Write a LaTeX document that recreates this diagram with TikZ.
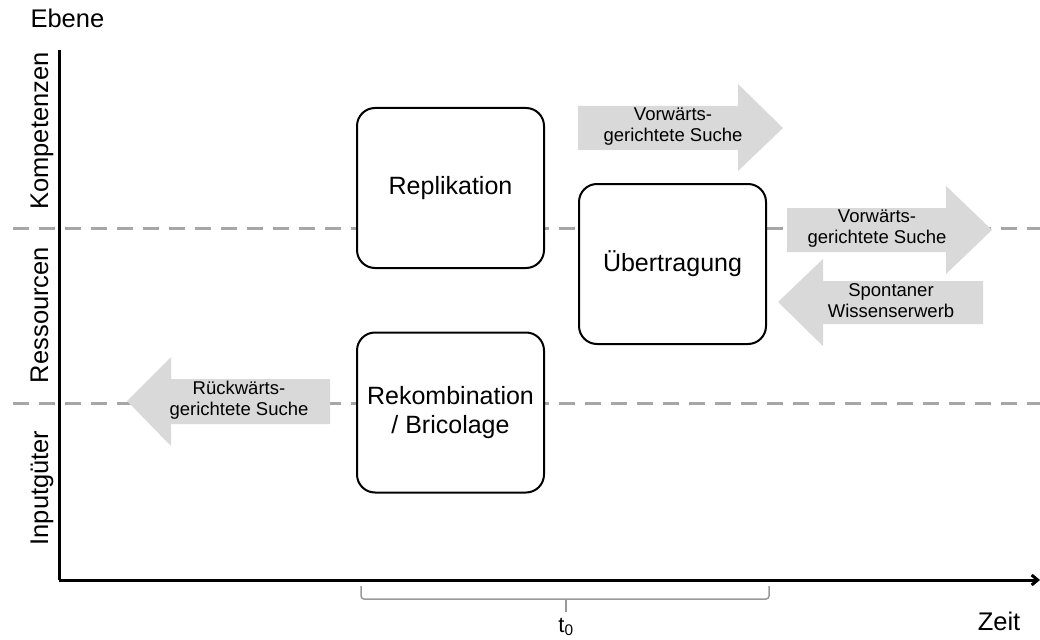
\documentclass[tikz,border=0pt]{standalone}
\usepackage{fontspec}
\setmainfont{Liberation Sans}
\usetikzlibrary{arrows.meta}
\definecolor{arrowgray}{HTML}{D9D9D9}
\definecolor{linegray}{HTML}{A6A6A6}
\definecolor{bracegray}{HTML}{999999}
\begin{document}
\begin{tikzpicture}[x=1pt,y=-1pt,
  stage/.style={draw=black,line width=2pt,rounded corners=18pt,fill=white,
    minimum width=187pt,minimum height=160pt,align=center,
    font=\fontsize{25}{29}\selectfont},
  arrowtext/.style={align=center,font=\fontsize{18.5}{21}\selectfont},
  axislabel/.style={font=\fontsize{25.5}{29}\selectfont},
  levelline/.style={linegray,line width=3pt,dash pattern=on 16pt off 10pt},
  bigarrow/.style={fill=arrowgray,draw=none},
  axisline/.style={line width=3pt,black}]
\useasboundingbox (0,0) rectangle (1040,639);

% level separators
\draw[levelline] (13,228) -- (1040,228);
\draw[levelline] (13,403) -- (1040,403);

% axes
\coordinate (origin) at (59,580);
\coordinate (ytop) at (59,50);
\coordinate (xend) at (1040,580);
\draw[axisline] (ytop) -- (origin);
\draw[axisline,-{Straight Barb[length=6pt,width=10pt]}] (origin) -- (xend);

\node[axislabel,anchor=base west] (ebene) at (27,28) {Ebene};
\node[axislabel,anchor=base] (zeit) at (999,630) {Zeit};
\node[axislabel,rotate=90,anchor=base] (komp) at (48,131) {Kompetenzen};
\node[axislabel,rotate=90,anchor=base] (ress) at (48,315) {Ressourcen};
\node[axislabel,rotate=90,anchor=base] (input) at (48,488) {Inputgüter};

% search-direction arrows
\draw[bigarrow] (578,106) -- (738,106) -- (738,84) -- (783,128) -- (738,171) -- (738,150) -- (578,150) -- cycle;
\draw[bigarrow] (787,208) -- (946,208) -- (946,186) -- (992,230) -- (946,274) -- (946,252) -- (787,252) -- cycle;
\draw[bigarrow] (983,281) -- (823,281) -- (823,259) -- (778,302) -- (823,346) -- (823,324) -- (983,324) -- cycle;
\draw[bigarrow] (330,379) -- (171,379) -- (171,357) -- (127,401) -- (171,446) -- (171,424) -- (330,424) -- cycle;

\node[arrowtext] (fwd1) at (673,127) {Vorwärts-\\gerichtete Suche};
\node[arrowtext] (fwd2) at (877,229) {Vorwärts-\\gerichtete Suche};
\node[arrowtext] (spont) at (891,301) {Spontaner\\Wissenserwerb};
\node[arrowtext] (bwd) at (239,400) {Rückwärts-\\gerichtete Suche};

% stages
\node[stage] (repl) at (450.5,188) {Replikation};
\node[stage] (uebt) at (672.5,264) {Übertragung};
\node[stage] (rekomb) at (450.5,412.5) {Rekombination\\/ Bricolage};

% period brace
\coordinate (bl) at (361,586);
\coordinate (br) at (769,586);
\coordinate (bm) at (566,612);
\draw[bracegray,line width=1.5pt,rounded corners=3pt]
  (bl) -- (361,599) -- (769,599) -- (br);
\draw[bracegray,line width=2pt] (566,599) -- (bm);
\node[font=\fontsize{22}{26}\selectfont,anchor=base] (t0) at (566,632) {t\textsubscript{0}};
\end{tikzpicture}
\end{document}
